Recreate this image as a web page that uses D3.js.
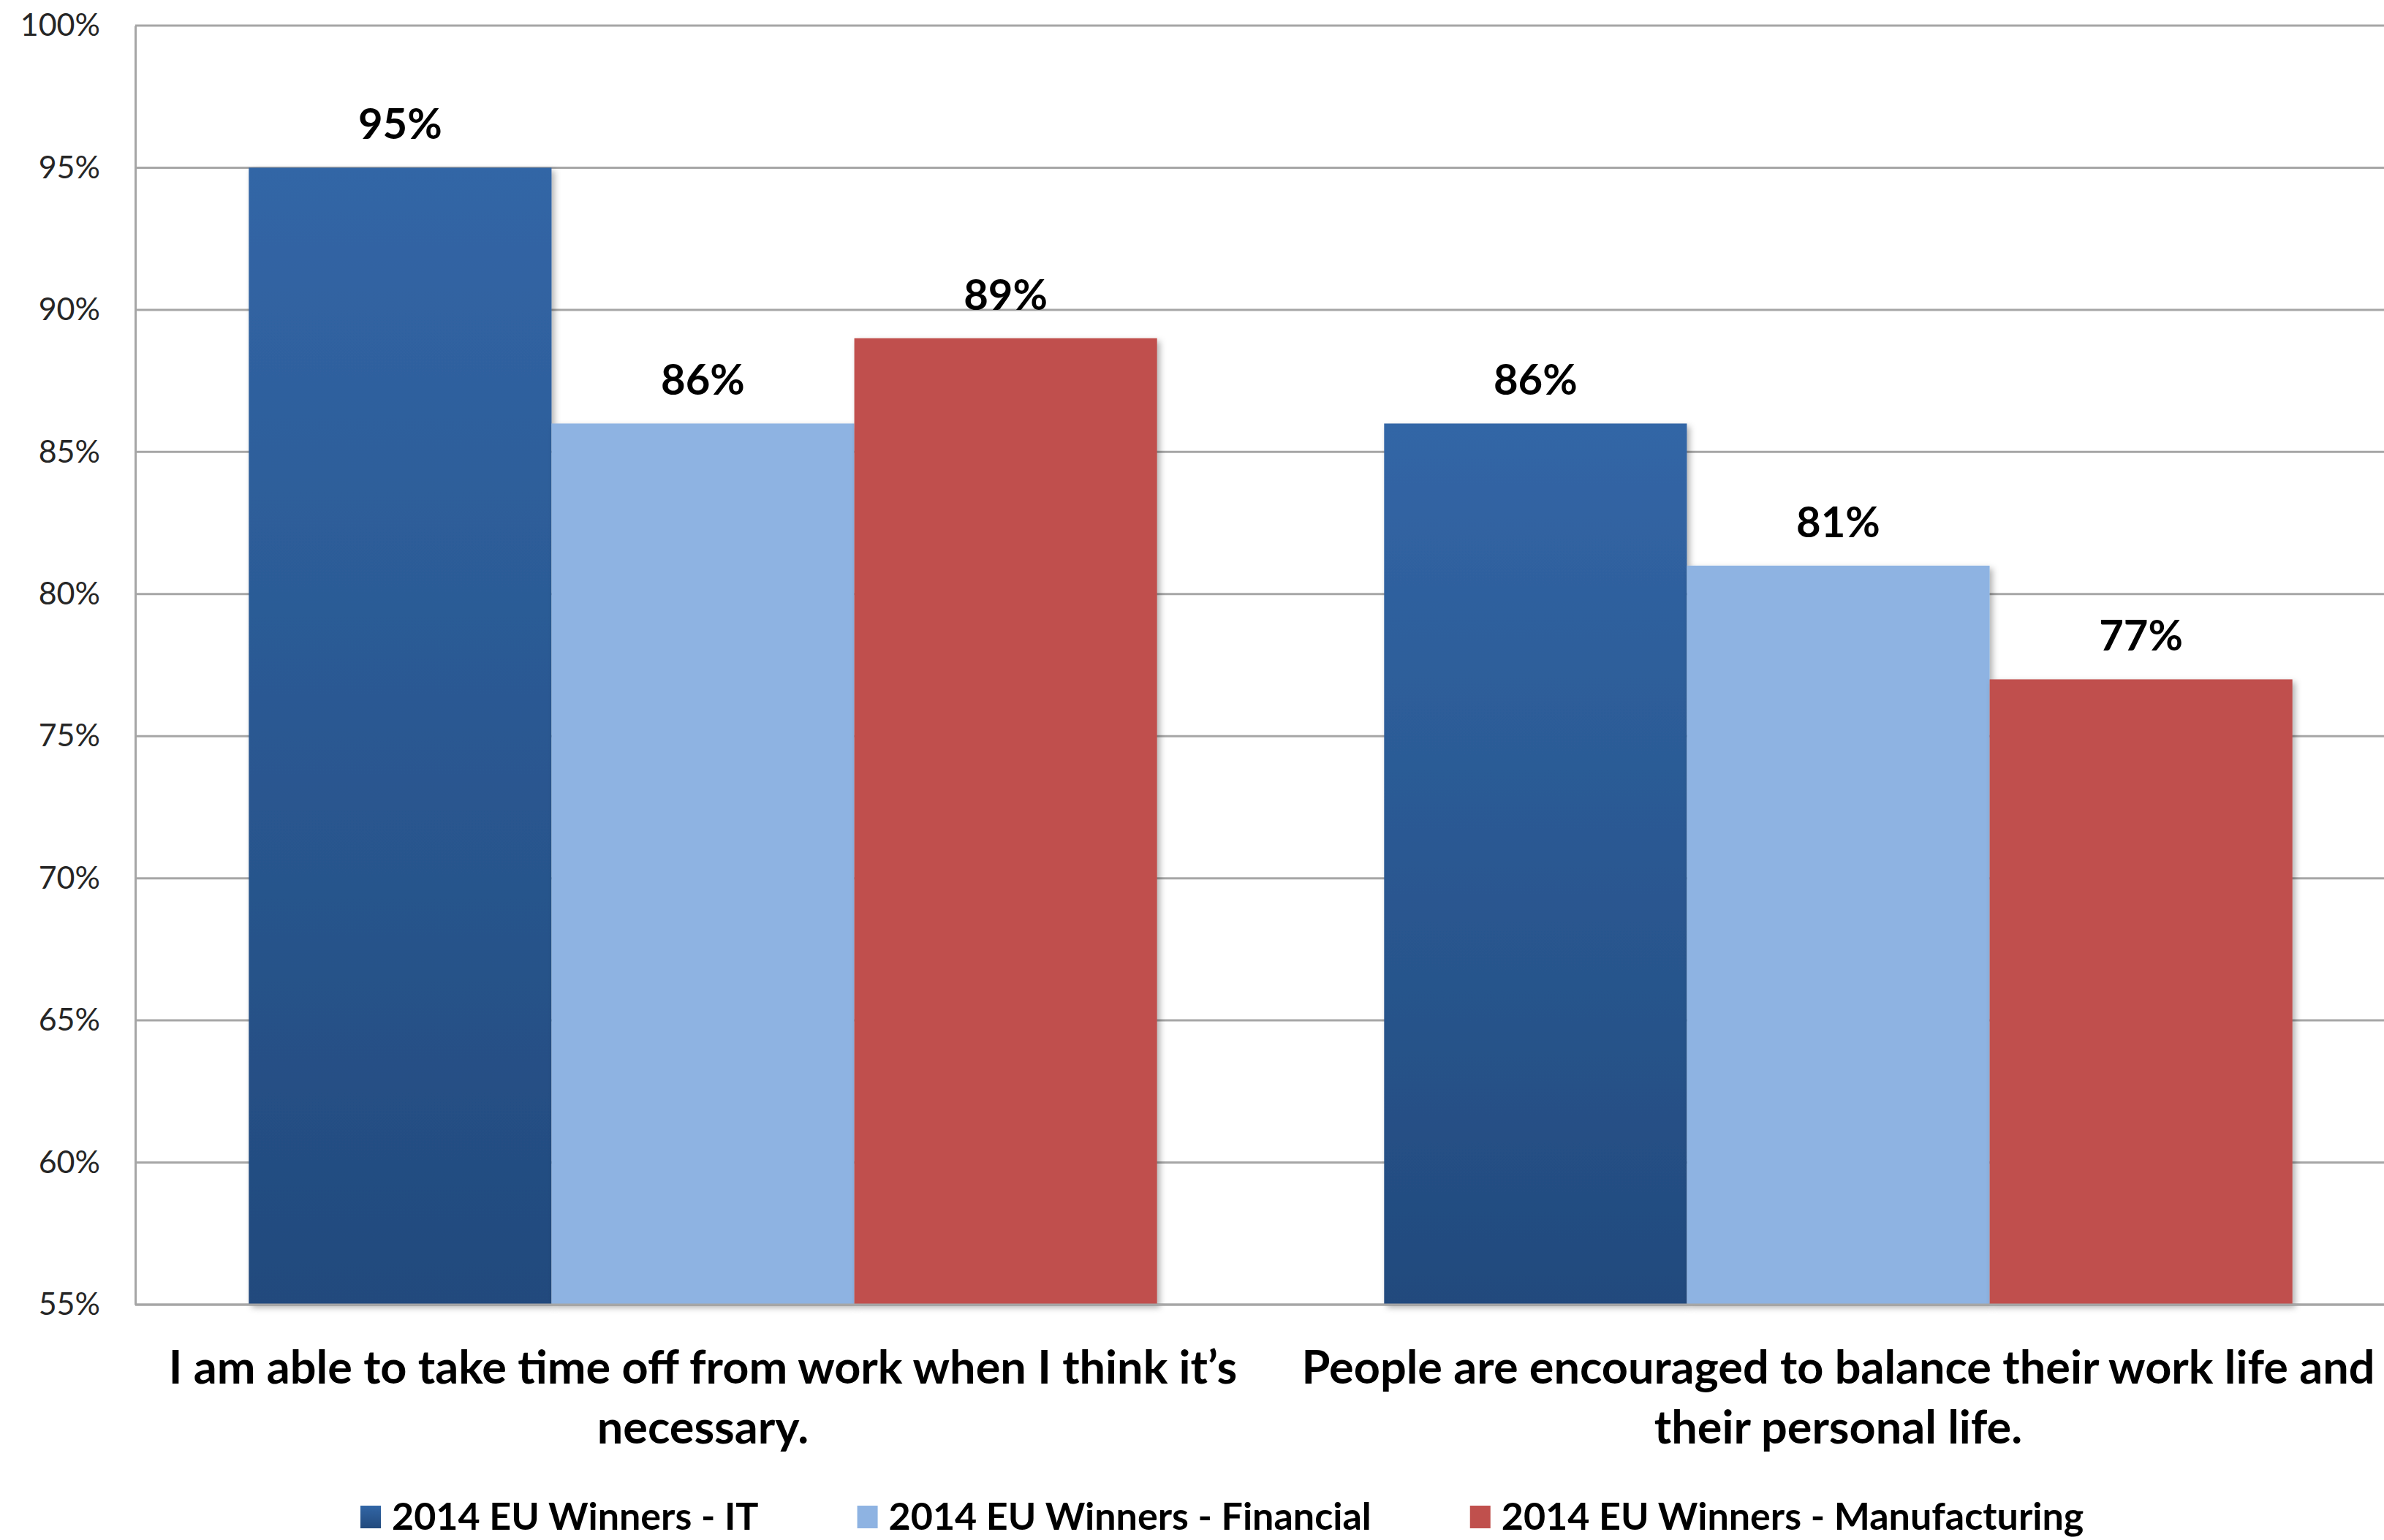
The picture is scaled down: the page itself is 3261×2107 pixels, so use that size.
<!DOCTYPE html>
<html>
  <head>
    <meta charset="utf-8">
    <title>EU Winners</title>
    <style media="screen">
    body{margin: 0; background: #fff}
    text{font-family: Lato, "Open Sans", sans-serif}
    </style>
  </head>
  <body>
    <script src="https://d3js.org/d3.v7.min.js"></script>
    <script type="text/javascript">
      var w = 3261, h = 2107;

      // chart data
      var categories = [
        "I am able to take time off from work when I think it\u2019s\nnecessary.",
        "People are encouraged to balance their work life and\ntheir personal life."
      ]
      var seriesNames = ["2014 EU Winners - IT", "2014 EU Winners - Financial", "2014 EU Winners - Manufacturing"]
      var itValues = [0.95, 0.86]
      var financialValues = [0.86, 0.81]
      var manufacturingValues = [0.89, 0.77]
      var yTicks = [0.55, 0.60, 0.65, 0.70, 0.75, 0.80, 0.85, 0.90, 0.95, 1.00]

      var series = [itValues, financialValues, manufacturingValues]
      var colors = ["url(#gradIT)", "#8eb3e2", "#c0504d"]

      var m = {top: 35, left: 185, bottom: 322}
      var plotRight = 3291

      var svg = d3.select('body').append('svg')
        .attr('width', w)
        .attr('height', h)

      var defs = svg.append('defs')
      var grad = defs.append('linearGradient').attr('id', 'gradIT')
        .attr('x1', 0).attr('y1', 0).attr('x2', 0).attr('y2', 1)
      grad.append('stop').attr('offset', '0%').attr('stop-color', '#3266a6')
      grad.append('stop').attr('offset', '100%').attr('stop-color', '#224a7d')

      var shadow = defs.append('filter').attr('id', 'shadow')
        .attr('x', '-5%').attr('y', '-5%').attr('width', '115%').attr('height', '110%')
      shadow.append('feDropShadow').attr('dx', 4).attr('dy', 4).attr('stdDeviation', 4)
        .attr('flood-color', '#000').attr('flood-opacity', 0.3)

      var y = d3.scaleLinear()
        .domain([0.55, 1.0])
        .range([h - m.bottom, m.top])

      var x0 = d3.scaleBand()
        .domain(d3.range(categories.length))
        .range([m.left, plotRight])
        .paddingInner(0)
        .paddingOuter(0)

      var x1 = d3.scaleBand()
        .domain(d3.range(series.length))
        .range([0, x0.bandwidth()])
        .paddingOuter(0.375)
        .paddingInner(0)

      // gridlines
      svg.append('g').selectAll('line')
        .data(yTicks)
        .enter().append('line')
          .attr('x1', m.left).attr('x2', plotRight)
          .attr('y1', function(d){ return y(d) }).attr('y2', function(d){ return y(d) })
          .attr('stroke', '#a6a6a6')
          .attr('stroke-width', 3)

      // y axis
      var yAxis = d3.axisLeft(y)
        .tickValues(yTicks)
        .tickFormat(d3.format('.0%'))
        .tickSize(0)
        .tickPadding(48)

      var ya = svg.append('g')
        .attr('transform', 'translate(' + m.left + ',0)')
        .call(yAxis)
      ya.select('.domain').attr('stroke', '#a6a6a6').attr('stroke-width', 3)
      ya.selectAll('text')
        .attr('font-size', 43)
        .attr('fill', '#262626')
        .style('font-family', 'Lato, sans-serif')

      // bars
      var groups = svg.append('g').selectAll('g')
        .data(categories)
        .enter().append('g')
          .attr('transform', function(d, i){ return 'translate(' + x0(i) + ',0)' })

      groups.each(function(c, ci){
        var g = d3.select(this)
        var rows = series.map(function(s, si){ return {si: si, v: s[ci]} })
        g.selectAll('rect')
          .data(rows)
          .enter().append('rect')
            .attr('x', function(d){ return x1(d.si) })
            .attr('width', x1.bandwidth())
            .attr('y', function(d){ return y(d.v) })
            .attr('height', function(d){ return y(0.55) - y(d.v) })
            .attr('fill', function(d){ return colors[d.si] })
            .attr('filter', 'url(#shadow)')

        g.selectAll('text.val')
          .data(rows)
          .enter().append('text')
            .attr('class', 'val')
            .attr('x', function(d){ return x1(d.si) + x1.bandwidth() / 2 })
            .attr('y', function(d){ return y(d.v) - 39 })
            .attr('text-anchor', 'middle')
            .attr('font-size', 58)
            .attr('font-weight', 'bold')
            .text(function(d){ return d3.format('.0%')(d.v) })
      })

      // bottom axis line
      svg.append('line')
        .attr('x1', m.left).attr('x2', plotRight)
        .attr('y1', y(0.55)).attr('y2', y(0.55))
        .attr('stroke', '#a6a6a6').attr('stroke-width', 3)

      // category labels
      svg.append('g').selectAll('text')
        .data(categories)
        .enter().append('text')
          .attr('text-anchor', 'middle')
          .attr('font-size', 63)
          .attr('font-weight', 'bold')
          .each(function(d, i){
            var t = d3.select(this)
            d.split('\n').forEach(function(line, li){
              t.append('tspan')
                .attr('x', x0(i) + x0.bandwidth() / 2)
                .attr('y', y(0.55) + 108 + li * 82)
                .text(line)
            })
          })

      // legend
      var legend = svg.append('g')
      var lx = 493
      seriesNames.forEach(function(name, i){
        legend.append('rect')
          .attr('x', lx).attr('y', 2060)
          .attr('width', 28).attr('height', 31)
          .attr('fill', colors[i])
        var t = legend.append('text')
          .attr('x', lx + 43).attr('y', 2093)
          .attr('font-size', 52)
          .attr('font-weight', 'bold')
          .text(name)
        lx += 43 + t.node().getComputedTextLength() + 135
      })

    </script>

  </body>
</html>
